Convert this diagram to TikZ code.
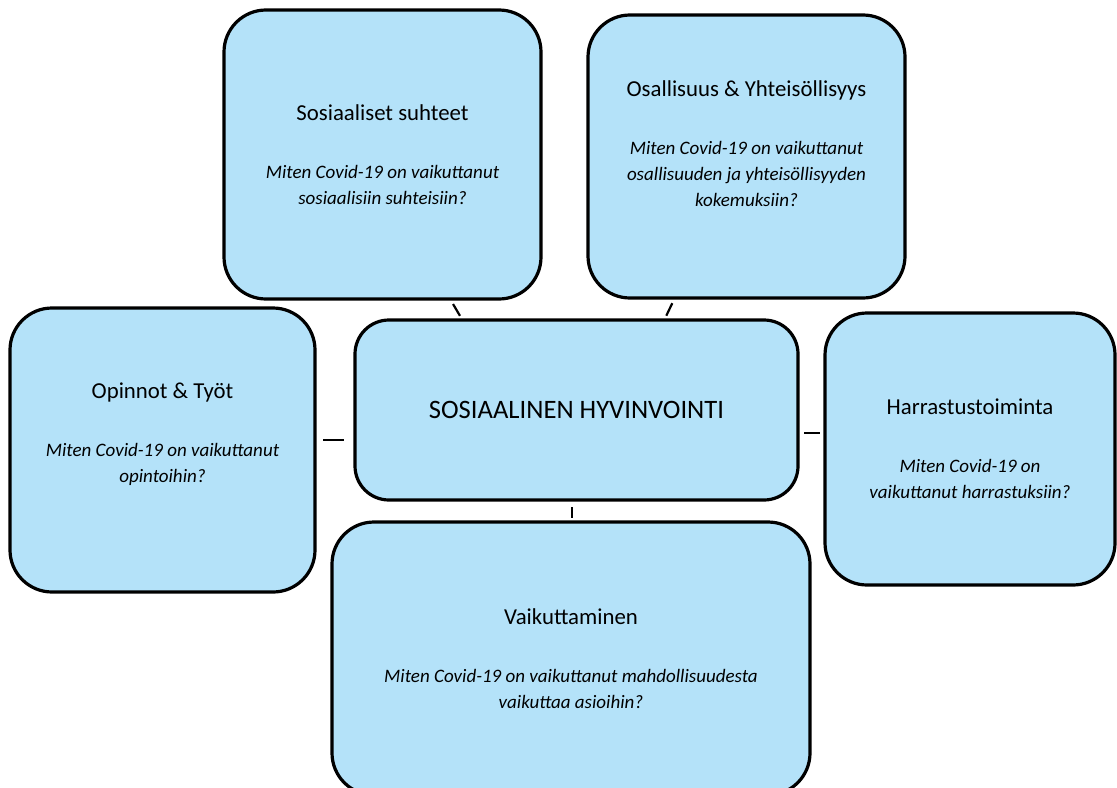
\documentclass[tikz,border=0pt]{standalone}
\usepackage{fontspec}
\setmainfont{Carlito}
\usepackage{xcolor}
\definecolor{boxblue}{RGB}{180,226,249}
\newcommand{\kysymys}{\itshape\fontsize{9.5}{12.5}\selectfont}

\begin{document}
\begin{tikzpicture}[x=0.5pt,y=-0.5pt,
        topic/.style={draw, line width=1.6pt, fill=boxblue, rounded corners=21pt,
            inner sep=0pt, align=center, font=\fontsize{11.4}{13}\selectfont},
        link/.style={-, line width=1.1pt}]
            \useasboundingbox (0,0) rectangle (1117,787);
            \node[topic, minimum width=158.5pt, minimum height=144.5pt](sos) at (382.5,154.5)
                {Sosiaaliset suhteet\\[16pt]\kysymys Miten Covid-19 on vaikuttanut\\\kysymys sosiaalisiin suhteisiin?};
            \node[topic, minimum width=158.5pt, minimum height=141.5pt](osa) at (746.5,156.5)
                {Osallisuus \& Yhteisöllisyys\\[16pt]\kysymys Miten Covid-19 on vaikuttanut\\\kysymys osallisuuden ja yhteisöllisyyden\\\kysymys kokemuksiin?\\\mbox{}};
            \node[topic, minimum width=221.5pt, minimum height=90pt, rounded corners=17pt,
                font=\fontsize{13.3}{15}\selectfont](hyv) at (576.5,410)
                {SOSIAALINEN HYVINVOINTI};
            \node[topic, minimum width=152.5pt, minimum height=142pt](opi) at (162.5,450)
                {Opinnot \& Työt\\[16pt]\kysymys Miten Covid-19 on vaikuttanut\\\kysymys opintoihin?\\[4.5pt]\mbox{}};
            \node[topic, minimum width=145pt, minimum height=136pt](har) at (970,449)
                {Harrastustoiminta\\[16pt]\kysymys Miten Covid-19 on\\\kysymys vaikuttanut harrastuksiin?};
            \node[topic, minimum width=239pt, minimum height=136.5pt](vai) at (571,658.5)
                {Vaikuttaminen\\[16pt]\kysymys Miten Covid-19 on vaikuttanut mahdollisuudesta\\\kysymys vaikuttaa asioihin?};
            \path[link]
                ([xshift=34.25pt]sos.south)
                    edge [shorten <=2pt, shorten >=1.5pt] ([xshift=-57.5pt]hyv.north)
                ([xshift=-36.25pt]osa.south)
                    edge [shorten <=2pt, shorten >=1.5pt] ([xshift=44.25pt]hyv.north)
                ([yshift=5pt]opi.east)
                    edge [shorten <=3.2pt, shorten >=4.7pt] ([yshift=5pt]opi.east -| hyv.west)
                ([yshift=8pt]har.west -| hyv.east)
                    edge [shorten <=2.2pt, shorten >=1.7pt] ([yshift=8pt]har.west)
                ([xshift=-2.25pt]hyv.south)
                    edge [shorten <=2.7pt, shorten >=1.2pt] ([xshift=-2.25pt]hyv.south |- vai.north)
                ;
        \end{tikzpicture}
\end{document}
